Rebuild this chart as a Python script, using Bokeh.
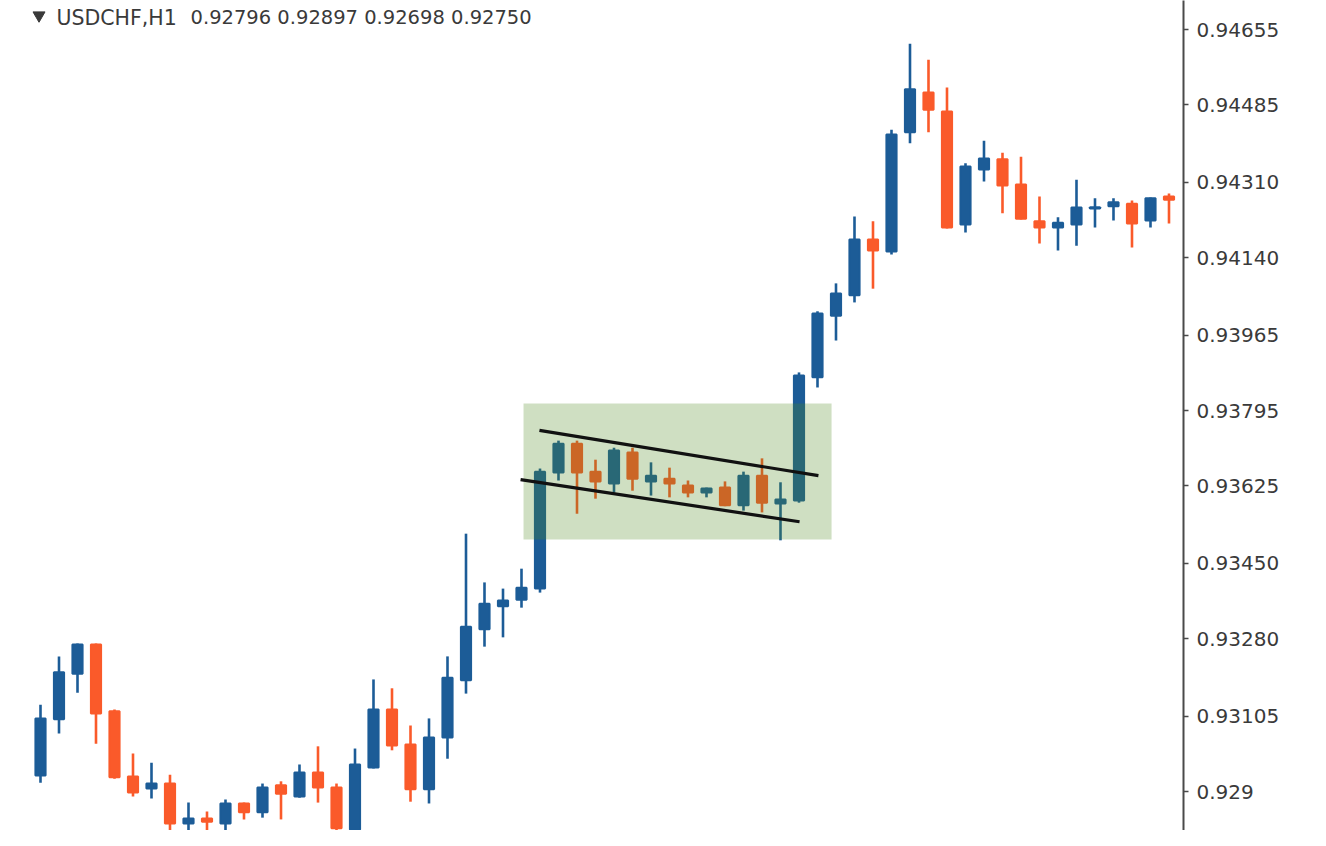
from bokeh.plotting import figure
from bokeh.models import Range1d, FixedTicker, Label, ColumnDataSource
from bokeh.embed import file_html
from bokeh.resources import INLINE

# ---- data ----
opens  = [0.92971,0.93098,0.93201,0.93267,0.93116,0.92969,0.92942,0.92953,0.92863,0.92874,
          0.92863,0.92908,0.92888,0.92949,0.92924,0.92978,0.92944,0.92849,0.92989,0.93120,
          0.93041,0.92940,0.93057,0.93186,0.93301,0.93353,0.93368,0.93393,0.93655,0.93720,
          0.93657,0.93630,0.93700,0.93635,0.93641,0.93626,0.93610,0.93621,0.93581,0.93648,
          0.93585,0.93592,0.93870,0.94009,0.94055,0.94181,0.94154,0.94423,0.94513,0.94470,
          0.94215,0.94339,0.94362,0.94305,0.94222,0.94208,0.94215,0.94251,0.94256,0.94262,
          0.94224,0.94278]
highs  = [0.93131,0.93240,0.93269,0.93269,0.93120,0.93021,0.93000,0.92973,0.92910,0.92890,
          0.92917,0.92910,0.92953,0.92958,0.92996,0.93037,0.92953,0.93032,0.93188,0.93168,
          0.93084,0.93100,0.93240,0.93517,0.93407,0.93393,0.93438,0.93664,0.93727,0.93727,
          0.93684,0.93711,0.93711,0.93678,0.93666,0.93637,0.93621,0.93635,0.93657,0.93687,
          0.93633,0.93881,0.94019,0.94082,0.94233,0.94222,0.94429,0.94623,0.94587,0.94524,
          0.94353,0.94404,0.94377,0.94368,0.94278,0.94231,0.94316,0.94274,0.94274,0.94269,
          0.94276,0.94285]
lows   = [0.92955,0.93066,0.93158,0.93043,0.92964,0.92924,0.92919,0.92802,0.92820,0.92820,
          0.92847,0.92872,0.92876,0.92872,0.92921,0.92910,0.92810,0.92840,0.92987,0.93028,
          0.92912,0.92908,0.93009,0.93156,0.93262,0.93283,0.93350,0.93384,0.93637,0.93562,
          0.93596,0.93610,0.93614,0.93603,0.93599,0.93599,0.93599,0.93579,0.93569,0.93565,
          0.93502,0.93587,0.93847,0.93953,0.94039,0.94070,0.94147,0.94398,0.94423,0.94206,
          0.94197,0.94312,0.94240,0.94226,0.94172,0.94156,0.94167,0.94208,0.94224,0.94163,
          0.94208,0.94217]
closes = [0.93100,0.93204,0.93267,0.93111,0.92967,0.92933,0.92953,0.92863,0.92874,0.92867,
          0.92908,0.92888,0.92944,0.92930,0.92978,0.92944,0.92852,0.92996,0.93120,0.93039,
          0.92940,0.93057,0.93192,0.93307,0.93359,0.93366,0.93395,0.93657,0.93720,0.93655,
          0.93635,0.93705,0.93641,0.93648,0.93630,0.93610,0.93619,0.93581,0.93648,0.93587,
          0.93594,0.93874,0.94014,0.94059,0.94181,0.94156,0.94418,0.94520,0.94474,0.94208,
          0.94346,0.94364,0.94303,0.94228,0.94208,0.94219,0.94253,0.94254,0.94265,0.94217,
          0.94274,0.94271]
bars = list(range(1, len(opens) + 1))

tick_values = [0.94655,0.94485,0.94310,0.94140,0.93965,0.93795,0.93625,0.93450,0.93280,0.93105,0.92935]
tick_labels = ["0.94655","0.94485","0.94310","0.94140","0.93965","0.93795","0.93625","0.93450","0.93280","0.93105","0.929"]

symbol_text = "USDCHF,H1"
ohlc_text = "0.92796 0.92897 0.92698 0.92750"

# flag pattern: highlighted zone and channel lines
zone_bars = [27.11, 43.76]
zone_prices = [0.93504, 0.93811]
upper_bars = [27.97, 43.05]
upper_prices = [0.93750, 0.93648]
lower_bars = [26.95, 42.03]
lower_prices = [0.93639, 0.93544]

BULL = "#1c5c97"
BEAR = "#fa5a2a"

colors = [BULL if c >= o else BEAR for o, c in zip(opens, closes)]
src = ColumnDataSource(dict(
    x=bars, o=opens, h=highs, l=lows, c=closes,
    top=[max(o, c) for o, c in zip(opens, closes)],
    bottom=[min(o, c) for o, c in zip(opens, closes)],
    color=colors,
))

p = figure(width=1310, height=830, output_backend="svg", toolbar_location=None,
           x_range=Range1d(-1.1622, 62.784), y_range=Range1d(0.928470, 0.947205),
           x_axis_location=None, y_axis_location="right",
           min_border_left=0, min_border_top=0, min_border_bottom=0, min_border_right=127)
p.outline_line_color = None
p.background_fill_color = "white"
p.border_fill_color = "white"
p.xgrid.visible = False
p.ygrid.visible = False

ax = p.yaxis[0]
ax.ticker = FixedTicker(ticks=tick_values)
ax.major_label_overrides = {v: t for v, t in zip(tick_values, tick_labels)}
ax.axis_line_color = "#4a4a4a"
ax.axis_line_width = 2
ax.major_tick_line_color = "#4a4a4a"
ax.major_tick_line_width = 1.5
ax.major_tick_out = 5
ax.major_tick_in = 0
ax.minor_tick_line_color = None
ax.major_label_standoff = 8
ax.major_label_text_font = "DejaVu Sans"
ax.major_label_text_font_size = "20px"
ax.major_label_text_color = "#3a3a3a"

p.segment(x0="x", y0="h", x1="x", y1="l", source=src, line_color="color", line_width=2.6)
p.vbar(x="x", top="top", bottom="bottom", width=0.55, source=src,
       fill_color="color", line_color="color", line_width=2)

p.quad(left=[zone_bars[0]], right=[zone_bars[1]], bottom=[zone_prices[0]], top=[zone_prices[1]],
       fill_color="#4d8a1f", fill_alpha=0.27, line_color=None)
p.line(upper_bars, upper_prices, line_color="#111111", line_width=3.2)
p.line(lower_bars, lower_prices, line_color="#111111", line_width=3.2)

# header
p.scatter(x=[0.92], y=[0.94687], marker="inverted_triangle", size=12,
          fill_color="#3a3a3a", line_color="#3a3a3a")
p.add_layout(Label(x=1.865, y=0.94682, text=symbol_text, text_font="DejaVu Sans",
                   text_font_size="20.5px", text_color="#3a3a3a", text_baseline="middle"))
p.add_layout(Label(x=9.11, y=0.94682, text=ohlc_text, text_font="DejaVu Sans",
                   text_font_size="19.5px", text_color="#3a3a3a", text_baseline="middle"))

open("out.html", "w").write(file_html(p, INLINE))
